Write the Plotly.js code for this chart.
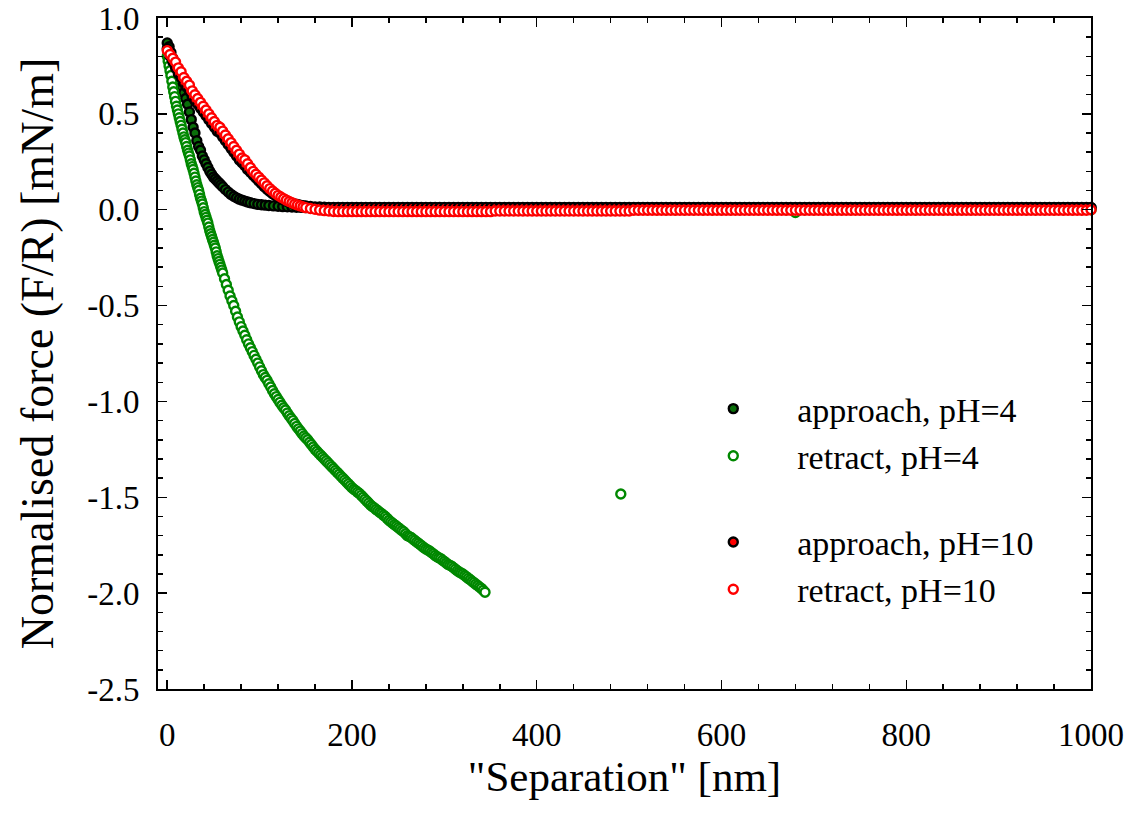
<!DOCTYPE html>
<html>
<head>
<meta charset="utf-8">
<script src="https://cdn.plot.ly/plotly-3.0.1.min.js"></script>
<style>html,body{margin:0;padding:0;background:#fff;}#chart{width:1132px;height:820px;}</style>
</head>
<body>
<div id="chart"></div>
<script>
// ---- shared far-field separation grid (nm) ----
const flatX = [
150,155,160,165,170,175,180,185,190,195,
200,205,210,215,220,225,230,235,240,245,
250,255,260,265,270,275,280,285,290,295,
300,305,310,315,320,325,330,335,340,345,
350,355,360,365,370,375,380,385,390,395,
400,405,410,415,420,425,430,435,440,445,
450,455,460,465,470,475,480,485,490,495,
500,505,510,515,520,525,530,535,540,545,
550,555,560,565,570,575,580,585,590,595,
600,605,610,615,620,625,630,635,640,645,
650,655,660,665,670,675,680,685,690,695,
700,705,710,715,720,725,730,735,740,745,
750,755,760,765,770,775,780,785,790,795,
800,805,810,815,820,825,830,835,840,845,
850,855,860,865,870,875,880,885,890,895,
900,905,910,915,920,925,930,935,940,945,
950,955,960,965,970,975,980,985,990,995,
1000];

// ---- approach, pH=4 ----
const ap4X = [0,2,4,6,8,10,12,14,16,18,20,22,24,26,28,30,32,34,36,38,40,42,44,46,48,50,52,54,56,58,60,
63,66,69,72,75,78,81,84,87,90,94,98,102,106,110,115,120,125,130,135,140,145];
const ap4Y = [0.87,0.85,0.82,0.79,0.76,0.72,0.69,0.66,0.64,0.61,0.58,0.55,0.51,0.47,0.43,0.40,0.36,0.33,0.31,0.28,0.26,0.24,0.22,0.20,0.185,0.17,0.16,0.15,0.14,0.13,0.12,
0.105,0.092,0.08,0.07,0.062,0.055,0.05,0.045,0.04,0.036,0.032,0.028,0.026,0.024,0.022,0.02,0.018,0.016,0.015,0.014,0.013,0.012];
const ap4FlatY = [
0.011,0.011,0.01,0.01,0.01,0.01,0.01,0.01,0.01,0.01,
0.01,0.01,0.01,0.01,0.01,0.01,0.01,0.01,0.01,0.01,
0.01,0.01,0.01,0.01,0.01,0.01,0.01,0.01,0.01,0.01,
0.01,0.01,0.01,0.01,0.01,0.01,0.01,0.01,0.01,0.01,
0.01,0.01,0.01,0.01,0.01,0.01,0.01,0.01,0.01,0.01,
0.01,0.01,0.01,0.01,0.01,0.01,0.01,0.01,0.01,0.01,
0.01,0.01,0.01,0.01,0.01,0.01,0.01,0.01,0.01,0.01,
0.01,0.01,0.01,0.01,0.01,0.01,0.01,0.01,0.01,0.01,
0.01,0.01,0.01,0.01,0.01,0.01,0.01,0.01,0.01,0.01,
0.01,0.01,0.01,0.01,0.01,0.01,0.01,0.01,0.01,0.01,
0.01,0.01,0.01,0.01,0.01,0.01,0.01,0.01,0.01,0.01,
0.01,0.01,0.01,0.01,0.01,0.01,0.01,0.01,0.01,0.01,
0.01,0.01,0.01,0.01,0.01,0.01,0.01,0.01,0.01,0.01,
0.01,0.01,0.01,0.01,0.01,0.01,0.01,0.01,0.01,0.01,
0.01,0.01,0.01,0.01,0.01,0.01,0.01,0.01,0.01,0.01,
0.01,0.01,0.01,0.01,0.01,0.01,0.01,0.01,0.01,0.01,
0.01,0.01,0.01,0.01,0.01,0.01,0.01,0.01,0.01,0.01,
0.01];

// ---- retract, pH=4 ----
const rt4NearX = [0,1,2,3,4,5,6,7,8,9,10,11,12,13,14,15,16,17,18,19,20,21,22,23,24,25,26,27,28,29,30,
31,32,33,34,35,36,37,38,39,40,41,42,43,44,45,46,47,48,49,50,51,52,53,54,55,56,57,58,59,60];
const rt4NearY = [0.80,0.775,0.75,0.725,0.70,0.67,0.64,0.615,0.59,0.565,0.54,0.52,0.50,0.48,0.46,0.44,0.42,0.40,0.38,0.365,0.35,
0.33,0.31,0.295,0.28,0.26,0.24,0.225,0.21,0.19,0.17,0.15,0.13,0.115,0.10,0.08,0.06,0.045,0.03,0.01,-0.01,
-0.025,-0.04,-0.055,-0.07,-0.09,-0.11,-0.125,-0.14,-0.155,-0.17,-0.185,-0.20,-0.22,-0.24,-0.255,-0.27,-0.285,-0.30,-0.315,-0.33];
const rt4MidX = [
62,64,66,68,70,72,74,76,78,80,
82,84,86,88,90,92,94,96,98,100,
102,104,106,108,110,112,114,116,118,120,
122,124,126,128,130,132,134,136,138,140,
142,144,146,148,150,152,154,156,158,160,
162,164,166,168,170,172,174,176,178,180,
182,184,186,188,190,192,194,196,198,200,
202,204,206,208,210,212,214,216,218,220,
222,224,226,228,230,232,234,236,238,240,
242,244,246,248,250,252,254,256,258,260,
262,264,266,268,270,272,274,276,278,280,
282,284,286,288,290,292,294,296,298,300,
302,304,306,308,310,312,314,316,318,320,
322,324,326,328,330,332,334,336,338,340,
342,344];
const rt4MidY = [
-0.36,-0.39,-0.42,-0.45,-0.475,-0.50,-0.53,-0.56,-0.585,-0.61,
-0.633,-0.655,-0.678,-0.70,-0.72,-0.74,-0.76,-0.78,-0.80,-0.82,
-0.84,-0.86,-0.875,-0.89,-0.908,-0.925,-0.943,-0.96,-0.975,-0.99,
-1.005,-1.02,-1.033,-1.045,-1.06,-1.075,-1.088,-1.10,-1.115,-1.13,
-1.143,-1.155,-1.168,-1.18,-1.19,-1.20,-1.213,-1.225,-1.238,-1.25,
-1.26,-1.27,-1.28,-1.29,-1.30,-1.31,-1.32,-1.33,-1.34,-1.35,
-1.36,-1.37,-1.38,-1.39,-1.40,-1.41,-1.42,-1.43,-1.44,-1.45,
-1.458,-1.465,-1.473,-1.48,-1.49,-1.50,-1.51,-1.52,-1.53,-1.54,
-1.548,-1.555,-1.563,-1.57,-1.578,-1.585,-1.593,-1.60,-1.61,-1.62,
-1.628,-1.635,-1.643,-1.65,-1.658,-1.665,-1.673,-1.68,-1.69,-1.70,
-1.705,-1.71,-1.718,-1.725,-1.733,-1.74,-1.748,-1.755,-1.763,-1.77,
-1.775,-1.78,-1.788,-1.795,-1.803,-1.81,-1.815,-1.82,-1.828,-1.835,
-1.843,-1.85,-1.855,-1.86,-1.868,-1.875,-1.883,-1.89,-1.895,-1.90,
-1.908,-1.915,-1.923,-1.93,-1.938,-1.945,-1.953,-1.96,-1.968,-1.975,
-1.985,-1.995];
const rt4FarX = [491,
500,510,520,530,540,550,560,570,580,590,600,610,620,630,640,650,660,670,680,690,
700,710,720,730,740,750,760,770,780,790,800,810,820,830,840,850,860,870,880,890,
900,910,920,930,940,950,960,970,980,990,1000];
const rt4FarY = [-1.483,
0,0,0,0,0,0,0,0,0,0,0,0,0,0,0,0,0,0,-0.015,0,
0,0,0,0,0,0,0,0,0,0,0,0,0,0,0,0,0,0,0,0,
0,0,0,0,0,0,0,0,0,0,0];

// ---- approach, pH=10 ----
const ap10X = [0,3,6,9,12,15,18,21,24,27,30,33,36,39,42,45,48,51,54,57,60,63,66,69,72,75,78,81,84,87,90,
93,96,99,102,105,108,111,114,117,120,123,126,129,132,135,138,141,144,147];
const ap10Y = [0.84,0.80,0.77,0.74,0.71,0.69,0.66,0.64,0.62,0.59,0.57,0.55,0.53,0.51,0.49,0.47,0.45,0.43,0.41,0.40,0.38,0.36,0.34,0.32,0.30,0.28,0.26,0.245,0.23,0.21,0.195,
0.18,0.165,0.15,0.135,0.12,0.107,0.095,0.084,0.074,0.065,0.057,0.05,0.044,0.039,0.034,0.03,0.027,0.024,0.021];
const ap10FlatY = [
0.019,0.017,0.015,0.014,0.013,0.012,0.012,0.012,0.012,0.012,
0.012,0.012,0.012,0.012,0.012,0.012,0.012,0.012,0.012,0.012,
0.012,0.012,0.012,0.012,0.012,0.012,0.012,0.012,0.012,0.012,
0.012,0.012,0.012,0.012,0.012,0.012,0.012,0.012,0.012,0.012,
0.012,0.012,0.012,0.012,0.012,0.012,0.012,0.012,0.012,0.012,
0.012,0.012,0.012,0.012,0.012,0.012,0.012,0.012,0.012,0.012,
0.012,0.012,0.012,0.012,0.012,0.012,0.012,0.012,0.012,0.012,
0.012,0.012,0.012,0.012,0.012,0.012,0.012,0.012,0.012,0.012,
0.012,0.012,0.012,0.012,0.012,0.012,0.012,0.012,0.012,0.012,
0.012,0.012,0.012,0.012,0.012,0.012,0.012,0.012,0.012,0.012,
0.012,0.012,0.012,0.012,0.012,0.012,0.012,0.012,0.012,0.012,
0.012,0.012,0.012,0.012,0.012,0.012,0.012,0.012,0.012,0.012,
0.012,0.012,0.012,0.012,0.012,0.012,0.012,0.012,0.012,0.012,
0.012,0.012,0.012,0.012,0.012,0.012,0.012,0.012,0.012,0.012,
0.012,0.012,0.012,0.012,0.012,0.012,0.012,0.012,0.012,0.012,
0.012,0.012,0.012,0.012,0.012,0.012,0.012,0.012,0.012,0.012,
0.012,0.012,0.012,0.012,0.012,0.012,0.012,0.012,0.012,0.012,
0.012];

// ---- retract, pH=10 ----
const rt10X = ap10X;
const rt10Y = [0.83,0.81,0.79,0.77,0.74,0.72,0.69,0.67,0.65,0.62,0.60,0.58,0.56,0.54,0.52,0.50,0.48,0.46,0.44,0.43,0.41,0.39,0.37,0.35,0.33,0.31,0.29,0.27,0.26,0.24,0.22,
0.20,0.185,0.17,0.155,0.14,0.125,0.11,0.098,0.086,0.075,0.066,0.058,0.05,0.043,0.036,0.03,0.025,0.02,0.015];
const rt10FlatY = [
0.011,0.006,0.002,-0.002,-0.005,-0.007,-0.009,-0.01,-0.01,-0.01,
-0.01,-0.01,-0.01,-0.01,-0.01,-0.01,-0.01,-0.01,-0.01,-0.01,
-0.01,-0.01,-0.01,-0.01,-0.01,-0.01,-0.01,-0.01,-0.01,-0.01,
-0.01,-0.01,-0.01,-0.01,-0.01,-0.01,-0.01,-0.01,-0.01,-0.01,
-0.01,-0.007,-0.007,-0.007,-0.007,-0.007,-0.007,-0.007,-0.007,-0.007,
-0.007,-0.007,-0.007,-0.007,-0.007,-0.007,-0.007,-0.007,-0.007,-0.007,
-0.007,-0.007,-0.007,-0.007,-0.007,-0.007,-0.007,-0.007,-0.007,-0.007,
-0.007,-0.003,-0.003,-0.003,-0.003,-0.003,-0.003,-0.003,-0.003,-0.003,
-0.003,-0.003,-0.003,-0.003,-0.003,-0.003,-0.003,-0.003,-0.003,-0.003,
-0.003,-0.003,-0.003,-0.003,-0.003,-0.003,-0.003,-0.003,-0.003,-0.003,
-0.003,-0.003,-0.003,-0.003,-0.003,-0.003,-0.003,-0.003,-0.003,-0.003,
-0.003,-0.003,-0.003,-0.003,-0.003,-0.003,-0.003,-0.003,-0.003,-0.003,
-0.003,-0.003,-0.003,-0.003,-0.003,-0.003,-0.003,-0.003,-0.003,-0.003,
-0.003,-0.003,-0.003,-0.003,-0.003,-0.003,-0.003,-0.003,-0.003,-0.003,
-0.003,-0.003,-0.003,-0.003,-0.003,-0.003,-0.003,-0.003,-0.003,-0.003,
-0.003,-0.003,-0.003,-0.003,-0.003,-0.003,-0.003,-0.003,-0.003,-0.003,
-0.003,-0.003,-0.003,-0.003,-0.003,-0.003,-0.003,-0.003,-0.003,-0.003,
0];

// ---- labels ----
const seriesNames = ['approach, pH=4', 'retract, pH=4', 'approach, pH=10', 'retract, pH=10'];
const yTickVals = [1.0, 0.5, 0.0, -0.5, -1.0, -1.5, -2.0, -2.5];
const yTickText = ['1.0', '0.5', '0.0', '-0.5', '-1.0', '-1.5', '-2.0', '-2.5'];
const xTickVals = [0, 200, 400, 600, 800, 1000];
const xTickText = ['0', '200', '400', '600', '800', '1000'];

const FONT = 'Liberation Serif, Times New Roman, serif';
const mk = (fill, line) => ({symbol: 'circle', size: 9, color: fill, line: {color: line, width: 2.4}});

const traces = [
  {x: ap4X.concat(flatX), y: ap4Y.concat(ap4FlatY), name: seriesNames[0], legendgroup: 'pH4',
   type: 'scatter', mode: 'markers', marker: mk('#0a6e0a', '#000000'), cliponaxis: false},
  {x: rt4NearX.concat(rt4MidX, rt4FarX), y: rt4NearY.concat(rt4MidY, rt4FarY), name: seriesNames[1], legendgroup: 'pH4',
   type: 'scatter', mode: 'markers', marker: mk('#ffffff', '#008800'), cliponaxis: false},
  {x: ap10X.concat(flatX), y: ap10Y.concat(ap10FlatY), name: seriesNames[2], legendgroup: 'pH10',
   type: 'scatter', mode: 'markers', marker: mk('#ff0000', '#000000'), cliponaxis: false},
  {x: rt10X.concat(flatX), y: rt10Y.concat(rt10FlatY), name: seriesNames[3], legendgroup: 'pH10',
   type: 'scatter', mode: 'markers', marker: mk('#ffffff', '#ff0000'), cliponaxis: false}
];

const axisCommon = {
  showline: true, linecolor: '#000', linewidth: 2, mirror: 'ticks',
  ticks: 'inside', ticklen: 9, tickwidth: 1.5, tickcolor: '#000',
  showgrid: false, zeroline: false,
  tickfont: {family: FONT, size: 33, color: '#000'}
};

const layout = {
  width: 1132, height: 820,
  paper_bgcolor: '#fff', plot_bgcolor: '#fff',
  margin: {l: 158, r: 41, t: 18, b: 131},
  font: {family: FONT, color: '#000'},
  showlegend: true,
  legend: {
    x: 0.548, y: 0.4605, xanchor: 'left', yanchor: 'top',
    font: {family: FONT, size: 34, color: '#000'},
    itemwidth: 118, tracegroupgap: 39, bgcolor: 'rgba(0,0,0,0)', borderwidth: 0
  },
  xaxis: Object.assign({}, axisCommon, {
    range: [-10, 1000], tickmode: 'array', tickvals: xTickVals, ticktext: xTickText,
    ticklabelstandoff: 15,
    minor: {dtick: 40, tick0: 0, ticks: 'inside', ticklen: 5, tickwidth: 1.5, tickcolor: '#000'},
    title: {text: '"Separation" [nm]', font: {family: FONT, size: 43, color: '#000'}, standoff: 0}
  }),
  yaxis: Object.assign({}, axisCommon, {
    range: [-2.5, 1.0], tickmode: 'array', tickvals: yTickVals, ticktext: yTickText,
    ticklabelstandoff: 10,
    minor: {dtick: 0.1, tick0: 0, ticks: 'inside', ticklen: 5, tickwidth: 1.5, tickcolor: '#000'},
    title: {text: 'Normalised force (F/R) [mN/m]', font: {family: FONT, size: 46, color: '#000'}, standoff: 19}
  })
};

Plotly.newPlot('chart', traces, layout, {displayModeBar: false, staticPlot: true});
</script>
</body>
</html>
